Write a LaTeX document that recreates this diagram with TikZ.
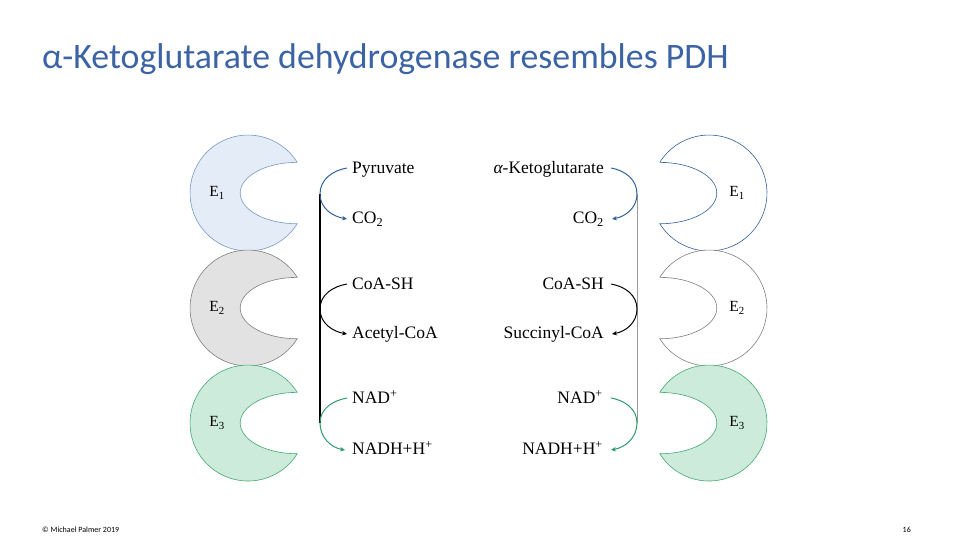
\documentclass[tikz,border=0pt]{standalone}
\usepackage{fontspec}
\setmainfont{Carlito}
\newfontfamily\serif{Liberation Serif}
\usetikzlibrary{arrows.meta}
\definecolor{titleblue}{RGB}{60,100,164}
\definecolor{eonefill}{RGB}{227,236,247}
\definecolor{eoneline}{RGB}{122,154,196}
\definecolor{eoneblue}{RGB}{50,98,152}
\definecolor{etwofill}{RGB}{226,226,226}
\definecolor{etwoline}{RGB}{128,128,128}
\definecolor{ethreefill}{RGB}{204,235,218}
\definecolor{ethreeline}{RGB}{70,168,118}
\definecolor{ethreearrow}{RGB}{46,156,106}
\begin{document}
\begin{tikzpicture}[x=1pt,y=1pt,
  crescL/.pic={\path[pic actions] (49.2,30.7) arc[start angle=32,end angle=328,radius=58]
      arc[start angle=270,end angle=90,x radius=57,y radius=30.7] -- cycle;},
  crescR/.pic={\path[pic actions] (-49.2,30.7) arc[start angle=148,end angle=-148,radius=58]
      arc[start angle=270,end angle=450,x radius=57,y radius=30.7] -- cycle;},
  elabel/.style={font=\serif\fontsize{15.5}{17}\selectfont, inner sep=0},
  mol/.style={font=\serif\fontsize{17.5}{19}\selectfont, inner sep=0},
  arr/.style={line width=1pt, -{Stealth[length=5pt,width=4.5pt]}},
  lbl/.style={anchor=base west},
  rbl/.style={anchor=base east}]
\useasboundingbox (0,0) rectangle (960,540);
\fill[white] (0,0) rectangle (960,540);

% title
\node[anchor=base west, inner sep=0, text=titleblue, font=\fontsize{35.8}{40}\selectfont] (title) at (42,471)
  {α-Ketoglutarate dehydrogenase resembles PDH};

% left crescents
\pic[fill=eonefill, draw=eoneline, line width=0.6pt] at (248,347) {crescL};
\pic[fill=etwofill, draw=etwoline, line width=0.6pt] at (248,232) {crescL};
\pic[fill=ethreefill, draw=ethreeline, line width=0.6pt] at (248,117) {crescL};
\node[elabel] (le1) at (217,347) {E\textsubscript{1}};
\node[elabel] (le2) at (217,232) {E\textsubscript{2}};
\node[elabel] (le3) at (217,117) {E\textsubscript{3}};

% right crescents
\pic[fill=white, draw=eoneblue, line width=0.6pt] at (709,347) {crescR};
\pic[fill=white, draw=etwoline, line width=0.6pt] at (709,232) {crescR};
\pic[fill=ethreefill, draw=ethreeline, line width=0.6pt] at (709,117) {crescR};
\node[elabel] (re1) at (737,347) {E\textsubscript{1}};
\node[elabel] (re2) at (737,232) {E\textsubscript{2}};
\node[elabel] (re3) at (737,117) {E\textsubscript{3}};

% left labels
\node[mol,lbl] (pyr) at (352,366) {Pyruvate};
\node[mol,lbl] (lco) at (352,316) {CO\textsubscript{2}};
\node[mol,lbl] (lcoa) at (352,250) {CoA-SH};
\node[mol,lbl] (acoa) at (352,201) {Acetyl-CoA};
\node[mol,lbl] (lnad) at (352,136) {NAD\textsuperscript{+}};
\node[mol,lbl] (lnadh) at (352,85) {NADH+H\textsuperscript{+}};

% right labels
\node[mol,rbl] (akg) at (604,366) {{\itshape α}-Ketoglutarate};
\node[mol,rbl] (rco) at (604,316) {CO\textsubscript{2}};
\node[mol,rbl] (rcoa) at (604,250) {CoA-SH};
\node[mol,rbl] (scoa) at (604,201) {Succinyl-CoA};
\node[mol,rbl] (rnad) at (603,136) {NAD\textsuperscript{+}};
\node[mol,rbl] (rnadh) at (603,85) {NADH+H\textsuperscript{+}};

% turning points
\coordinate (l1) at (320,346);
\coordinate (l2) at (320,231);
\coordinate (l3) at (320,117);
\coordinate (r1) at (637,346);
\coordinate (r2) at (637,231);
\coordinate (r3) at (637,117);

% vertical lines
\draw[black, line width=1.2pt] (l1) -- (l3);
\draw[black!40, line width=0.8pt] (r1) -- (r3);

% left arrows
\draw[arr, eoneblue] ([xshift=-5pt,yshift=6pt]pyr.base west) to[out=190,in=90] (l1)
  to[out=-90,in=170] ([xshift=-5pt,yshift=5pt]lco.base west);
\draw[arr, black] ([xshift=-5pt,yshift=6pt]lcoa.base west) to[out=190,in=90] (l2)
  to[out=-90,in=170] ([xshift=-5pt,yshift=5pt]acoa.base west);
\draw[arr, ethreearrow] ([xshift=-5pt,yshift=6pt]lnad.base west) to[out=190,in=90] (l3)
  to[out=-90,in=170] ([xshift=-7pt,yshift=5pt]lnadh.base west);

% right arrows
\draw[arr, eoneblue] ([xshift=7pt,yshift=6pt]akg.base east) to[out=-10,in=90] (r1)
  to[out=-90,in=10] ([xshift=8pt,yshift=5pt]rco.base east);
\draw[arr, black] ([xshift=7pt,yshift=6pt]rcoa.base east) to[out=-10,in=90] (r2)
  to[out=-90,in=10] ([xshift=8pt,yshift=5pt]scoa.base east);
\draw[arr, ethreearrow] ([xshift=8pt,yshift=6pt]rnad.base east) to[out=-10,in=90] (r3)
  to[out=-90,in=10] ([xshift=8pt,yshift=5pt]rnadh.base east);

% footer
\node[anchor=base west, inner sep=0, font=\fontsize{8}{9}\selectfont] (foot) at (42,7) {© Michael Palmer 2019};
\node[anchor=base east, inner sep=0, font=\fontsize{8}{9}\selectfont] (page) at (911,7) {16};
\end{tikzpicture}
\end{document}
